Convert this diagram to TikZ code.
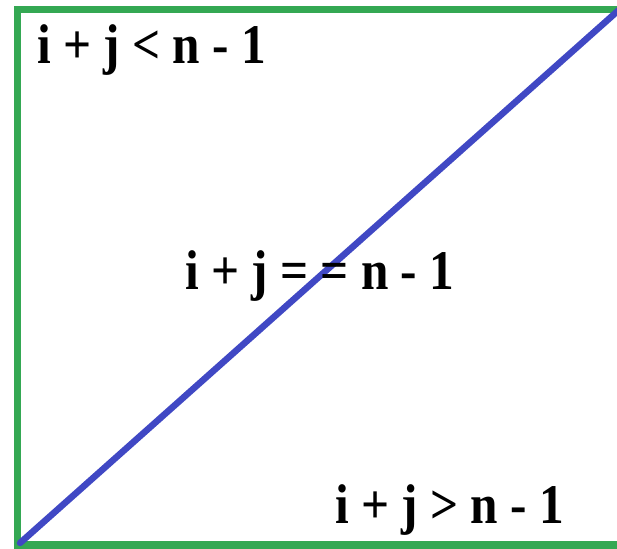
\documentclass[tikz,border=0pt]{standalone}
\usepackage{fontspec}
\setmainfont{Liberation Serif}
\usetikzlibrary{positioning}
\definecolor{frame}{RGB}{52,168,83}
\definecolor{diag}{RGB}{64,72,196}
\tikzset{region/.style={anchor=base west,inner sep=0pt,xscale=0.88,transform shape,
    font=\fontsize{56}{60}\selectfont\bfseries},
  border/.style={draw=frame,line width=7.5pt},
  split/.style={draw=diag,line width=6.5pt,line cap=round}}

\begin{document}
\begin{tikzpicture}[x=1pt, y=1pt]
\useasboundingbox (0,0) rectangle (617,548);
\clip (0,0) rectangle (617,548);
\draw[border] (17.5,3) rectangle (622,538.5);
\coordinate (lo) at (20,5);
\coordinate (hi) at (620,539);
\draw[split] (lo) -- (hi);
\node[region] (upper) at (37,484) {i + j < n - 1};
\node[region] (onto) at (185,258) {i + j = = n - 1};
\node[region] (lower) at (335,25) {i + j > n - 1};
\end{tikzpicture}
\end{document}
